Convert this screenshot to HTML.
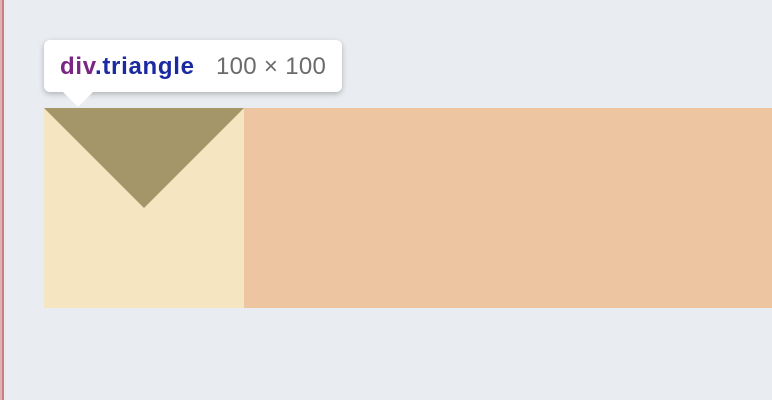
<!DOCTYPE html>
<html><head><style>
body{margin:0;width:772px;height:400px;background:#e9ecf1;position:relative;overflow:hidden;font-family:"Liberation Sans",sans-serif}
.abs{position:absolute}
</style></head><body>
<div class="abs" style="left:0;top:0;width:2px;height:400px;background:#e0b3b3"></div>
<div class="abs" style="left:2px;top:0;width:2px;height:400px;background:#c77f7f"></div>
<div class="abs" style="left:244px;top:108px;width:528px;height:200px;background:#edc6a1"></div>
<div class="abs" style="left:44px;top:108px;width:200px;height:200px;background:#f5e6c1"></div>
<svg class="abs" style="left:44px;top:108px" width="200" height="100"><polygon points="0,0 200,0 100,100" fill="#a5966a"/></svg>
<div class="abs" style="left:44px;top:40px;width:298px;height:52px;background:#fff;border-radius:6px;box-shadow:0 2px 6px rgba(0,0,0,0.25)"></div>
<svg class="abs" style="left:62px;top:91px" width="32" height="17"><polygon points="0,0 32,0 16,16" fill="#fff"/></svg>
<div class="abs" style="left:60px;top:53px;font-size:24px;font-weight:bold;line-height:28px;letter-spacing:0.7px"><span style="color:#7a2683">div</span><span style="color:#1b2aa0">.triangle</span></div>
<div class="abs" style="left:216px;top:53px;font-size:24px;line-height:28px;color:#6b6b6b;letter-spacing:0.3px">100 × 100</div>
</body></html>
